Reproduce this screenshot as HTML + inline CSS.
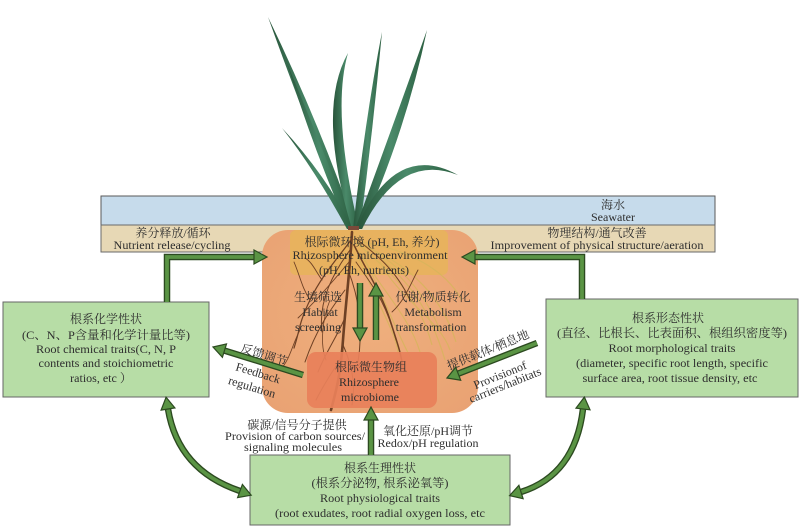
<!DOCTYPE html>
<html><head><meta charset="utf-8"><style>
html,body{margin:0;padding:0;background:#fff;}
svg{display:block;}
text{font-family:"Liberation Serif","Noto Serif CJK SC",serif;font-size:12px;fill:#2e2e2e;text-anchor:middle;dominant-baseline:central;}
.s{stroke:#2c4a20;stroke-width:6.5;fill:none;}
.g{stroke:#5a9444;stroke-width:3.8;fill:none;}
.h{fill:#5a9444;stroke:#2c4a20;stroke-width:1.2;}
</style></head><body>
<svg width="800" height="527" viewBox="0 0 800 527" xmlns="http://www.w3.org/2000/svg">
<defs>
<linearGradient id="lf" x1="0" y1="0" x2="1" y2="0">
<stop offset="0" stop-color="#28543a"/><stop offset="0.5" stop-color="#4a8a6a"/><stop offset="1" stop-color="#2b5e40"/>
</linearGradient>
<radialGradient id="og" cx="0.5" cy="0.45" r="0.7">
<stop offset="0" stop-color="#efb07e"/><stop offset="1" stop-color="#e9a273"/>
</radialGradient>
</defs>

<!-- bands -->
<rect x="101" y="196" width="614" height="29" fill="#c6dbeb" stroke="#5a5a5a" stroke-width="1"/>
<rect x="101" y="225" width="614" height="27" fill="#e7d8b5" stroke="#6a6a6a" stroke-width="1"/>
<text x="613" y="205">海水</text>
<text x="613" y="217">Seawater</text>
<text x="173" y="233">养分释放/循环</text>
<text x="172" y="245" textLength="117" lengthAdjust="spacingAndGlyphs">Nutrient release/cycling</text>
<text x="597" y="233">物理结构/通气改善</text>
<text x="597" y="245" textLength="213" lengthAdjust="spacingAndGlyphs">Improvement of physical structure/aeration</text>

<!-- orange soil box -->
<rect x="262" y="230" width="216" height="183" rx="26" fill="url(#og)"/>
<rect x="290" y="230" width="158" height="45" rx="6" fill="#e8b45a" opacity="0.85"/>

<!-- roots -->
<g fill="none" stroke="#d7b55c" stroke-width="1.2" opacity="0.8">
<path d="M356,240 C390,258 420,282 440,330"/>
<path d="M357,244 C400,258 440,290 456,342"/>
<path d="M358,250 C382,290 410,318 420,352"/>
<path d="M360,246 C395,275 420,300 432,345"/>
<path d="M358,256 C375,300 395,330 398,352"/>
<path d="M362,242 C410,250 445,270 462,300"/>
<path d="M380,262 C400,300 440,320 450,350"/>
<path d="M370,250 C410,280 430,310 445,360"/>
<path d="M365,260 C385,300 400,340 412,360"/>
</g>
<g fill="none" stroke="#6e4024" stroke-linecap="round">
<path d="M352,232 C350,270 346,300 343,340 S336,390 331,410" stroke-width="2.6"/>
<path d="M351,240 C338,258 322,275 310,300 S300,330 294,348" stroke-width="1.2"/>
<path d="M350,250 C334,272 318,300 322,332" stroke-width="1"/>
<path d="M354,245 C366,270 381,292 390,320 S400,350 404,372" stroke-width="1.5"/>
<path d="M355,238 C376,254 396,270 410,300" stroke-width="1"/>
<path d="M345,290 C330,310 316,330 305,362" stroke-width="1"/>
<path d="M348,270 C360,300 363,330 358,362" stroke-width="1"/>
<path d="M344,320 C335,340 326,352 318,372" stroke-width="1"/>
<path d="M310,300 C302,288 300,276 294,262" stroke-width="0.9"/>
<path d="M322,280 C315,270 312,262 305,258" stroke-width="0.9"/>
<path d="M392,312 C405,300 410,285 418,270" stroke-width="0.9"/>
<path d="M340,360 C330,375 322,388 316,400" stroke-width="1"/>
<path d="M343,345 C352,365 356,385 352,405" stroke-width="1"/>
<path d="M300,330 C292,345 290,360 280,370" stroke-width="0.8"/>
<path d="M349,262 C330,285 312,305 298,318" stroke-width="0.9"/>
<path d="M356,262 C372,285 385,300 396,340" stroke-width="0.9"/>
<path d="M330,300 C322,320 320,345 326,360" stroke-width="0.8"/>
</g>
<rect x="307" y="352" width="130" height="56" rx="9" fill="#e8805a" opacity="0.92"/>

<!-- plant -->
<g fill="url(#lf)">
<path d="M349,229 Q305,120 268,17 Q318,120 356,229 Z"/>
<path d="M348,229 Q310,140 287,63 Q323,150 354,229 Z"/>
<path d="M347,229 Q315,170 282,128 Q326,175 353,229 Z"/>
<path d="M352,229 Q316,110 348,53 Q331,112 359,229 Z"/>
<path d="M353,229 Q365,120 382,32 Q373,130 360,229 Z"/>
<path d="M355,229 Q395,120 427,30 Q406,130 362,229 Z"/>
<path d="M356,229 Q395,140 458,175 Q400,152 362,229 Z"/>
</g>
<rect x="348" y="226" width="11" height="4" fill="#7a4a3a"/>

<!-- center texts -->
<text x="372" y="242">根际微环境 (pH, Eh, 养分)</text>
<text x="370" y="255" textLength="155" lengthAdjust="spacingAndGlyphs">Rhizosphere microenvironment</text>
<text x="364" y="270">(pH, Eh, nutrients)</text>
<text x="318" y="297">生境筛选</text>
<text x="320" y="312">Habitat</text>
<text x="318" y="327">screening</text>
<text x="433" y="297">代谢/物质转化</text>
<text x="433" y="312">Metabolism</text>
<text x="431" y="327">transformation</text>
<text x="371" y="367">根际微生物组</text>
<text x="369" y="382">Rhizosphere</text>
<text x="370" y="397">microbiome</text>

<!-- boxes -->
<rect x="3" y="302" width="206" height="95" fill="#b7dda6" stroke="#666" stroke-width="1"/>
<text x="106" y="319">根系化学性状</text>
<text x="106" y="335" textLength="168" lengthAdjust="spacingAndGlyphs">(C、N、P含量和化学计量比等)</text>
<text x="106" y="349" textLength="140" lengthAdjust="spacingAndGlyphs">Root chemical traits(C, N, P</text>
<text x="106" y="363" textLength="135" lengthAdjust="spacingAndGlyphs">contents and stoichiometric</text>
<text x="101" y="378">ratios, etc ）</text>

<rect x="546" y="299" width="252" height="98" fill="#b7dda6" stroke="#666" stroke-width="1"/>
<text x="668" y="318">根系形态性状</text>
<text x="672" y="333" textLength="230" lengthAdjust="spacingAndGlyphs">(直径、比根长、比表面积、根组织密度等)</text>
<text x="672" y="348" textLength="127" lengthAdjust="spacingAndGlyphs">Root morphological traits</text>
<text x="672" y="363" textLength="192" lengthAdjust="spacingAndGlyphs">(diameter, specific root length, specific</text>
<text x="670" y="378" textLength="175" lengthAdjust="spacingAndGlyphs">surface area, root tissue density, etc</text>

<rect x="250" y="455" width="260" height="70" fill="#b7dda6" stroke="#666" stroke-width="1"/>
<text x="380" y="468">根系生理性状</text>
<text x="380" y="483" textLength="137" lengthAdjust="spacingAndGlyphs">(根系分泌物, 根系泌氧等)</text>
<text x="380" y="498" textLength="120" lengthAdjust="spacingAndGlyphs">Root physiological traits</text>
<text x="380" y="513" textLength="210" lengthAdjust="spacingAndGlyphs">(root exudates, root radial oxygen loss, etc</text>

<!-- side labels -->
<text x="297" y="425">碳源/信号分子提供</text>
<text x="295" y="436" textLength="140" lengthAdjust="spacingAndGlyphs">Provision of carbon sources/</text>
<text x="293" y="447" textLength="98" lengthAdjust="spacingAndGlyphs">signaling molecules</text>
<text x="428" y="431">氧化还原/pH调节</text>
<text x="428" y="443" textLength="101" lengthAdjust="spacingAndGlyphs">Redox/pH regulation</text>

<text transform="translate(264,355) rotate(17)">反馈调节</text>
<text transform="translate(258,373) rotate(17)">Feedback</text>
<text transform="translate(252,387) rotate(17)">regulation</text>
<text transform="translate(488,350) rotate(-22)">提供载体/栖息地</text>
<text transform="translate(500,375) rotate(-22)">Provisionof</text>
<text transform="translate(505,385) rotate(-22)">carriers/habitats</text>

<!-- arrows -->
<g>
<polyline class="s" points="167,302 167,257 255,257"/>
<polyline class="g" points="167,302 167,257 255,257"/>
<polygon class="h" points="267,257 254,250 254,264"/>

<polyline class="s" points="582,299 582,257 475,257"/>
<polyline class="g" points="582,299 582,257 475,257"/>
<polygon class="h" points="462,257 475,250 475,264"/>

<line class="s" x1="360" y1="283" x2="360" y2="328"/>
<line class="g" x1="360" y1="283" x2="360" y2="328"/>
<polygon class="h" points="360,341 353,328 367,328"/>

<line class="s" x1="376" y1="340" x2="376" y2="296"/>
<line class="g" x1="376" y1="340" x2="376" y2="296"/>
<polygon class="h" points="376,283 369,296 383,296"/>

<line class="s" x1="371" y1="455" x2="371" y2="420"/>
<line class="g" x1="371" y1="455" x2="371" y2="420"/>
<polygon class="h" points="371,407 364,420 378,420"/>

<line class="s" x1="303" y1="375" x2="224.5" y2="350.6"/>
<line class="g" x1="303" y1="375" x2="224.5" y2="350.6"/>
<polygon class="h" points="213,347 226.5,343.9 222.4,357.3"/>

<line class="s" x1="537" y1="343" x2="458.2" y2="373.7"/>
<line class="g" x1="537" y1="343" x2="458.2" y2="373.7"/>
<polygon class="h" points="447,378 460.7,380.2 455.7,367.2"/>

<path class="s" d="M168,409 Q178,470 240,491"/>
<path class="g" d="M168,409 Q178,470 240,491"/>
<polygon class="h" points="166.1,397.2 174.9,407.9 161.1,410.1"/>
<polygon class="h" points="251.2,495.2 237.6,497.6 242.4,484.4"/>

<path class="s" d="M583,409 Q575,475 521,492"/>
<path class="g" d="M583,409 Q575,475 521,492"/>
<polygon class="h" points="584.4,397.1 590,409.8 576,408.2"/>
<polygon class="h" points="509.6,495.6 518.9,485.3 523.1,498.7"/>
</g>
</svg>
</body></html>
